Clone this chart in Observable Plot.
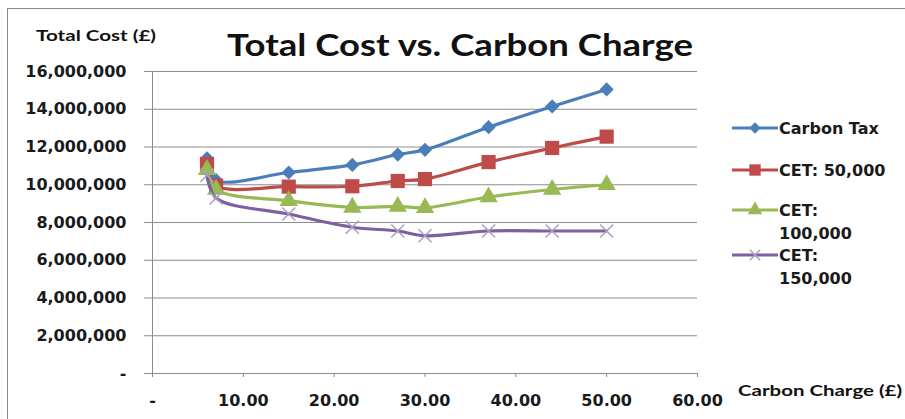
<!DOCTYPE html>
<html>
<head>
<meta charset="utf-8">
<script src="https://cdn.jsdelivr.net/npm/d3@7"></script>
<script src="https://cdn.jsdelivr.net/npm/@observablehq/plot@0.6"></script>
<style>
  html, body { margin: 0; padding: 0; background: #fff; }
  #wrap { position: relative; width: 905px; height: 419px; overflow: hidden; }
  #frame { position: absolute; left: 7px; top: 8px; width: 1000px; height: 1000px;
           border-left: 1px solid #8a8a8a; border-top: 1px solid #8a8a8a; }
  #overlay { position: absolute; left: 0; top: 0; pointer-events: none; }
  #chart { position: absolute; left: 0; top: 0; }
</style>
</head>
<body>
<div id="wrap">
  <div id="frame"></div>
  <div id="chart"></div>
  <svg id="overlay" width="905" height="419"></svg>
</div>
<script>
// ---- Data ----
const carbonCharge = [6, 7, 15, 22, 27, 30, 37, 44, 50];
const carbonTax  = [11400000, 10250000, 10650000, 11050000, 11600000, 11850000, 13050000, 14150000, 15050000];
const cet50000   = [11100000, 9950000, 9900000, 9920000, 10200000, 10300000, 11200000, 11950000, 12550000];
const cet100000  = [10800000, 9750000, 9150000, 8800000, 8850000, 8780000, 9350000, 9750000, 10000000];
const cet150000  = [10500000, 9300000, 8450000, 7750000, 7550000, 7300000, 7550000, 7550000, 7550000];

const seriesNames = ["Carbon Tax", "CET: 50,000", "CET: 100,000", "CET: 150,000"];
const legendLines = [["Carbon Tax"], ["CET: 50,000"], ["CET:", "100,000"], ["CET:", "150,000"]];
const seriesValues = [carbonTax, cet50000, cet100000, cet150000];

const yTicks = [0, 2000000, 4000000, 6000000, 8000000, 10000000, 12000000, 14000000, 16000000];
const xTicks = [0, 10, 20, 30, 40, 50, 60];

const title = "Total Cost vs. Carbon Charge";
const yTitle = "Total Cost (£)";
const xTitle = "Carbon Charge (£)";

// ---- Styles ----
const lineColors   = ["#4A7EBB", "#BE4B48", "#98B954", "#7D60A0"];
const markerColors = ["#4A7EBB", "#BE4B48", "#98B954", "#AB9DC6"];
const symbols      = ["diamond2", "square", "triangle", "times"];
const markerR      = [6.4, 8.0, 6.8, 6.0];

const rows = [];
seriesValues.forEach((vals, si) => {
  vals.forEach((v, i) => rows.push({series: seriesNames[si], x: carbonCharge[i], y: v}));
});

const yFmt = d => d === 0 ? "-" : d3.format(",")(d);
const xFmt = d => d === 0 ? "-" : d.toFixed(2);

const marks = [
  Plot.gridY(yTicks, {stroke: "#8c8c8c", strokeOpacity: 1, strokeWidth: 1}),
  Plot.ruleX([0], {stroke: "#8c8c8c"}),
  Plot.ruleY([0], {stroke: "#8c8c8c"}),
  Plot.axisY(yTicks, {tickFormat: yFmt, tickSize: 8, tickPadding: 18, stroke: "#8c8c8c",
    fontSize: 16, fontWeight: "bold", fill: "#1a1a1a", label: null}),
  Plot.axisX(xTicks, {tickFormat: xFmt, tickSize: 4, tickPadding: 17, stroke: "#8c8c8c",
    fontSize: 16, fontWeight: "bold", fill: "#1a1a1a", label: null})
];
seriesNames.forEach((name, si) => {
  const data = rows.filter(r => r.series === name);
  marks.push(Plot.line(data, {x: "x", y: "y", stroke: lineColors[si], strokeWidth: 3.2, curve: "catmull-rom"}));
  const isStrokeSym = symbols[si] === "times";
  marks.push(Plot.dot(data, {
    x: "x", y: "y", symbol: () => symbols[si], r: markerR[si],
    fill: isStrokeSym ? "none" : markerColors[si],
    stroke: isStrokeSym ? markerColors[si] : "none",
    strokeWidth: isStrokeSym ? 1.5 : 0
  }));
});

const chart = Plot.plot({
  width: 905, height: 419,
  marginLeft: 152, marginRight: 208, marginTop: 71, marginBottom: 46,
  x: {domain: [0, 60]},
  y: {domain: [0, 16000000]},
  style: {fontFamily: "DejaVu Sans", background: "transparent", overflow: "visible"},
  marks
});
document.getElementById("chart").appendChild(chart);

// ---- Titles and legend (overlay) ----
const ov = d3.select("#overlay");
ov.append("text").text(title)
  .attr("x", 227).attr("y", 56).attr("font-family", "Lato, 'Open Sans', sans-serif")
  .attr("font-weight", "bold").attr("font-size", 31).attr("fill", "#111")
  .attr("textLength", 466).attr("lengthAdjust", "spacingAndGlyphs");
ov.append("text").text(yTitle)
  .attr("x", 36).attr("y", 41).attr("font-family", "Lato, 'Open Sans', sans-serif")
  .attr("font-weight", "bold").attr("font-size", 16).attr("fill", "#111")
  .attr("textLength", 120).attr("lengthAdjust", "spacingAndGlyphs");
ov.append("text").text(xTitle)
  .attr("x", 738).attr("y", 396).attr("font-family", "Lato, 'Open Sans', sans-serif")
  .attr("font-weight", "bold").attr("font-size", 16).attr("fill", "#111")
  .attr("textLength", 164).attr("lengthAdjust", "spacingAndGlyphs");

const legendY = [128, 170, 210, 255];
legendLines.forEach((lines, si) => {
  const g = ov.append("g").attr("transform", `translate(0,${legendY[si]})`);
  g.append("line").attr("x1", 732).attr("x2", 778).attr("y1", 0).attr("y2", 0)
    .attr("stroke", lineColors[si]).attr("stroke-width", 3.2);
  const symMap = {diamond2: d3.symbolDiamond2, square: d3.symbolSquare, triangle: d3.symbolTriangle, times: d3.symbolTimes};
  const r = markerR[si] * 0.8;
  const isStrokeSym = symbols[si] === "times";
  g.append("path").attr("transform", "translate(755,0)")
    .attr("d", d3.symbol(symMap[symbols[si]], Math.PI * r * r)())
    .attr("fill", isStrokeSym ? "none" : markerColors[si])
    .attr("stroke", isStrokeSym ? markerColors[si] : "none")
    .attr("stroke-width", 1.5);
  lines.forEach((t, li) => {
    g.append("text").text(t).attr("x", 779).attr("y", li * 23 + 6)
      .attr("font-family", "DejaVu Sans").attr("font-weight", "bold")
      .attr("font-size", 16).attr("fill", "#1a1a1a");
  });
});
</script>
</body>
</html>
